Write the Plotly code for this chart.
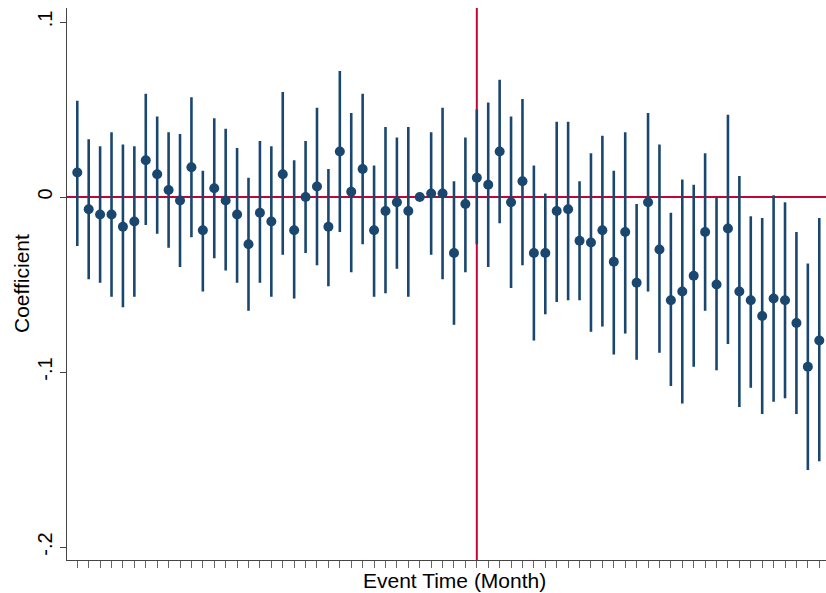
import plotly.graph_objects as go

event_time = list(range(-35, 31))

coef = [0.014, -0.007, -0.010, -0.010, -0.017, -0.014, 0.021, 0.013, 0.004, -0.002,
        0.017, -0.019, 0.005, -0.002, -0.010, -0.027, -0.009, -0.014, 0.013, -0.019,
        0.000, 0.006, -0.017, 0.026, 0.003, 0.016, -0.019, -0.008, -0.003, -0.008,
        0.000, 0.002, 0.002, -0.032, -0.004, 0.011, 0.007, 0.026, -0.003, 0.009,
        -0.032, -0.032, -0.008, -0.007, -0.025, -0.026, -0.019, -0.037, -0.020, -0.049,
        -0.003, -0.030, -0.059, -0.054, -0.045, -0.020, -0.050, -0.018, -0.054, -0.059,
        -0.068, -0.058, -0.059, -0.072, -0.097, -0.082]

ci_hi = [0.055, 0.033, 0.029, 0.037, 0.030, 0.029, 0.059, 0.046, 0.037, 0.036,
         0.057, 0.015, 0.045, 0.039, 0.028, 0.011, 0.032, 0.029, 0.060, 0.021,
         0.032, 0.051, 0.016, 0.072, 0.048, 0.059, 0.018, 0.040, 0.034, 0.040,
         0.000, 0.037, 0.051, 0.009, 0.034, 0.050, 0.054, 0.067, 0.046, 0.056,
         0.018, 0.002, 0.043, 0.043, 0.009, 0.025, 0.035, 0.015, 0.037, -0.004,
         0.048, 0.030, -0.009, 0.010, 0.007, 0.025, 0.000, 0.047, 0.012, -0.011,
         -0.012, 0.001, -0.003, -0.020, -0.038, -0.012]

ci_lo = [-0.028, -0.047, -0.049, -0.057, -0.063, -0.057, -0.016, -0.021, -0.029, -0.040,
         -0.023, -0.054, -0.035, -0.042, -0.049, -0.065, -0.049, -0.057, -0.033, -0.058,
         -0.032, -0.039, -0.051, -0.020, -0.043, -0.027, -0.057, -0.055, -0.041, -0.057,
         0.000, -0.033, -0.047, -0.073, -0.043, -0.027, -0.040, -0.015, -0.052, -0.039,
         -0.082, -0.067, -0.060, -0.059, -0.059, -0.077, -0.074, -0.090, -0.078, -0.093,
         -0.054, -0.089, -0.108, -0.118, -0.097, -0.065, -0.099, -0.084, -0.120, -0.109,
         -0.124, -0.117, -0.115, -0.124, -0.156, -0.151]

y_tickvals = [0.1, 0, -0.1, -0.2]
y_ticktext = [".1", "0", "-.1", "-.2"]

NAVY = "#1a476f"
RED = "#c10534"
AXIS = "#444444"
FONT = "Liberation Sans, Arial, sans-serif"

err_plus = [h - c for h, c in zip(ci_hi, coef)]
err_minus = [c - l for c, l in zip(coef, ci_lo)]

fig = go.Figure()
fig.add_trace(go.Scatter(
    x=event_time, y=coef, mode="markers",
    marker=dict(color=NAVY, size=10, line=dict(width=0)),
    error_y=dict(type="data", symmetric=False, array=err_plus, arrayminus=err_minus,
                 color=NAVY, thickness=2.6, width=0),
    showlegend=False,
))

fig.add_shape(type="line", xref="x", yref="paper", x0=0, x1=0, y0=0, y1=1,
              line=dict(color=RED, width=2), layer="below")
fig.add_shape(type="line", xref="paper", yref="y", x0=0, x1=1, y0=0, y1=0,
              line=dict(color=RED, width=2), layer="below")

fig.add_annotation(text="Event Time (Month)", xref="paper", yref="paper",
                   x=0.51, y=-0.038, xanchor="center", yanchor="middle",
                   showarrow=False, font=dict(family=FONT, size=21, color="black"))
fig.add_annotation(text="Coefficient", xref="paper", yref="paper",
                   x=-0.0606, y=0.5, xanchor="center", yanchor="middle", textangle=-90,
                   showarrow=False, font=dict(family=FONT, size=21, color="black"))

fig.update_layout(
    width=826, height=593,
    margin=dict(l=67, r=0, t=8, b=33, autoexpand=False),
    plot_bgcolor="white", paper_bgcolor="white",
    font=dict(family=FONT, size=20, color="black"),
    xaxis=dict(range=[-35.9, 30.59], showgrid=False, zeroline=False,
               showline=True, linecolor=AXIS, linewidth=1.3,
               ticks="outside", ticklen=7, tickwidth=1.3, tickcolor="#666666",
               tickmode="linear", tick0=0, dtick=1, showticklabels=False),
    yaxis=dict(range=[-0.2074, 0.108], showgrid=False, zeroline=False,
               showline=True, linecolor=AXIS, linewidth=1.3,
               ticks="outside", ticklen=6, tickwidth=1.3, tickcolor=AXIS,
               tickvals=y_tickvals, ticktext=y_ticktext, tickangle=-90,
               tickfont=dict(family=FONT, size=20, color="black")),
)

fig.write_html("out.html", config={"displayModeBar": False},
               post_script="document.body.style.margin='0';")
